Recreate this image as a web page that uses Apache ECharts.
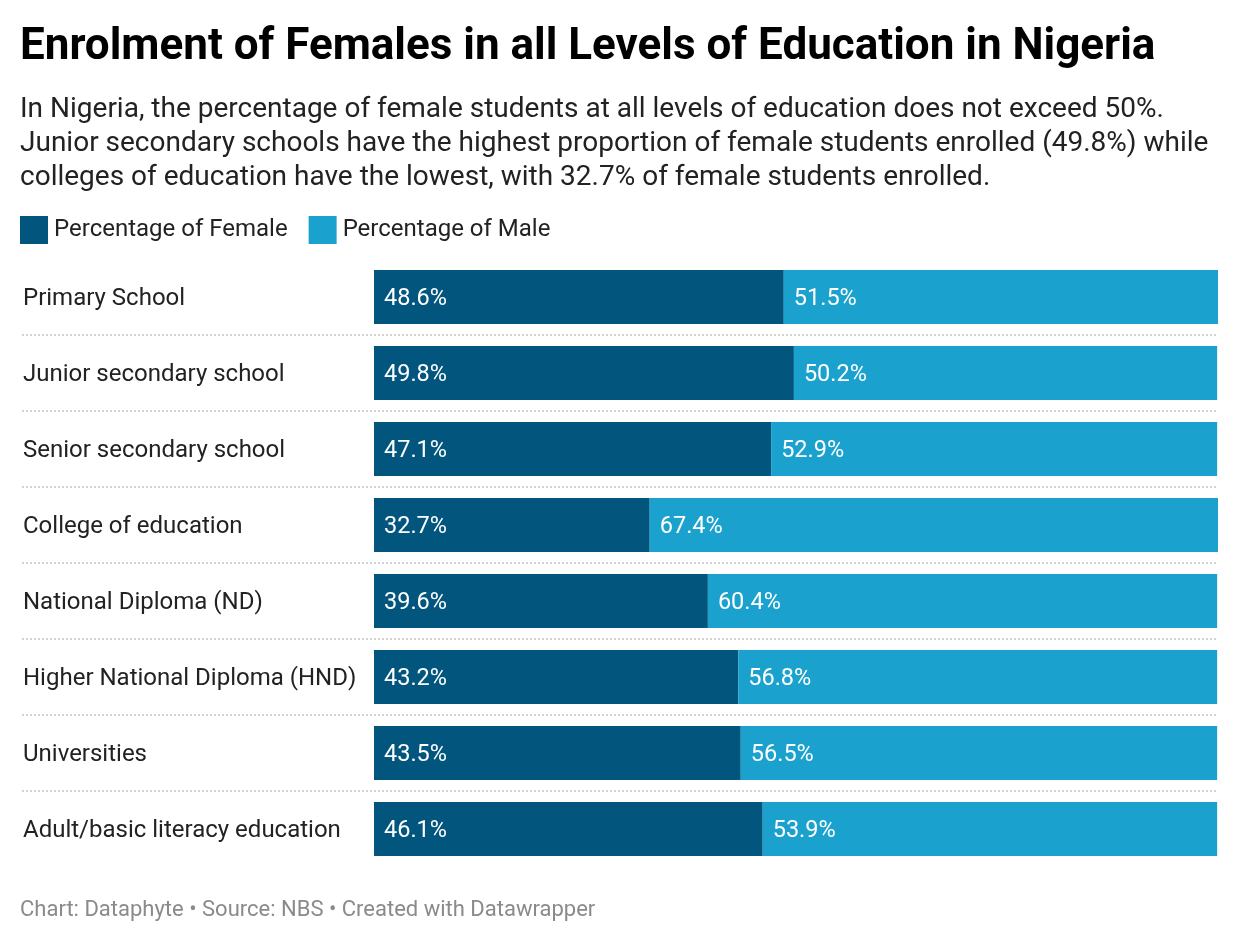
<!DOCTYPE html>
<html>
<head>
<meta charset="utf-8">
<script src="https://cdn.jsdelivr.net/npm/echarts@6/dist/echarts.min.js"></script>
<style>
html,body{margin:0;padding:0;background:#fff;}
#chart{width:1240px;height:944px;}
</style>
</head>
<body>
<div id="chart"></div>
<script>
const categories = [
  "Primary School",
  "Junior secondary school",
  "Senior secondary school",
  "College of education",
  "National Diploma (ND)",
  "Higher National Diploma (HND)",
  "Universities",
  "Adult/basic literacy education"
];
const femaleValues = [48.6, 49.8, 47.1, 32.7, 39.6, 43.2, 43.5, 46.1];
const maleValues = [51.5, 50.2, 52.9, 67.4, 60.4, 56.8, 56.5, 53.9];
const seriesNames = ["Percentage of Female", "Percentage of Male"];

const FONT = "Roboto, 'Noto Sans', sans-serif";
const chart = echarts.init(document.getElementById('chart'), null, {renderer: 'canvas'});
const labelStyle = {
  show: true,
  position: 'insideLeft',
  distance: 10,
  offset: [0, 2],
  color: '#ffffff',
  fontSize: 23.5,
  fontFamily: FONT,
  formatter: p => p.value.toFixed(1) + '%'
};
chart.setOption({
  animation: false,
  textStyle: {fontFamily: FONT},
  title: [
    {
      text: 'Enrolment of Females in all Levels of Education in Nigeria',
      left: 15, top: 21,
      textStyle: {fontSize: 44, fontWeight: 'bold', color: '#000', fontFamily: FONT}
    },
    {
      text: 'In Nigeria, the percentage of female students at all levels of education does not exceed 50%.\nJunior secondary schools have the highest proportion of female students enrolled (49.8%) while\ncolleges of education have the lowest, with 32.7% of female students enrolled.',
      left: 15, top: 88,
      textStyle: {fontSize: 28, fontWeight: 'normal', color: '#222', lineHeight: 34, fontFamily: FONT}
    },
    {
      text: 'Chart: Dataphyte • Source: NBS • Created with Datawrapper',
      left: 15, top: 894,
      textStyle: {fontSize: 22, fontWeight: 'normal', color: '#8a8a8a', fontFamily: FONT}
    }
  ],
  legend: {
    left: 15, top: 211,
    itemWidth: 28, itemHeight: 28, itemGap: 21,
    icon: 'rect',
    textStyle: {fontSize: 24, color: '#222', fontFamily: FONT, padding: [0, 0, 0, 1]},
    data: seriesNames
  },
  grid: [
    {left: 22, right: 22, top: 259, height: 608},
    {left: 374, right: 22, top: 259, height: 608}
  ],
  xAxis: [
    {gridIndex: 0, type: 'value', min: 0, max: 1, show: false},
    {gridIndex: 1, type: 'value', min: 0, max: 'dataMax', show: false}
  ],
  yAxis: [
    {
      gridIndex: 0, type: 'category', data: categories, inverse: true,
      axisLine: {show: false}, axisTick: {show: false},
      axisLabel: {inside: true, margin: 1, fontSize: 24, color: '#222', fontFamily: FONT,
        verticalAlign: 'top', lineHeight: 4},
      splitLine: {show: true, showMinLine: false, showMaxLine: false,
        lineStyle: {color: '#d3d3d3', width: 2, type: [2, 2]}}
    },
    {
      gridIndex: 1, type: 'category', data: categories, inverse: true,
      axisLine: {show: false}, axisTick: {show: false}, axisLabel: {show: false},
      splitLine: {show: false}
    }
  ],
  series: [
    {
      name: seriesNames[0], type: 'bar', stack: 'total',
      xAxisIndex: 1, yAxisIndex: 1, barWidth: 54,
      itemStyle: {color: '#02557c'},
      label: labelStyle,
      data: femaleValues
    },
    {
      name: seriesNames[1], type: 'bar', stack: 'total',
      xAxisIndex: 1, yAxisIndex: 1, barWidth: 54,
      itemStyle: {color: '#1aa1cd'},
      label: labelStyle,
      data: maleValues
    }
  ]
});
</script>
</body>
</html>
